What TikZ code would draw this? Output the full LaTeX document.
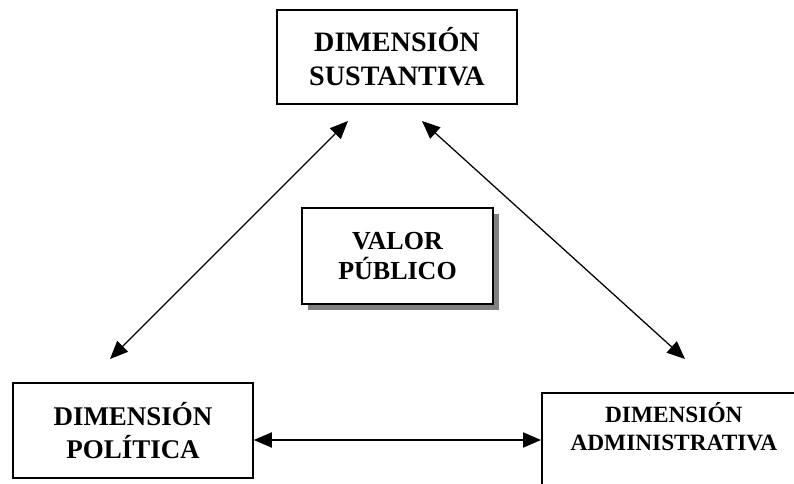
\documentclass[tikz,border=0pt]{standalone}
\usepackage{fontspec}
\setmainfont{Liberation Serif}
\usetikzlibrary{positioning,shadows,arrows.meta}

\begin{document}
\begin{tikzpicture}[x=0.25cm,y=0.25cm,
        caja/.style={draw,line width=1.2pt,align=center,font=\bfseries\fontsize{19.2}{24}\selectfont},
        flecha/.style={line width=0.9pt,{Triangle[length=0.45cm,width=0.38cm]}-{Triangle[length=0.45cm,width=0.38cm]}}]
        \useasboundingbox (0,0) rectangle (79.4,48.4);

        % dimension sustantiva
        \node[caja,minimum width=6cm,minimum height=2.35cm,font=\bfseries\fontsize{20}{24}\selectfont]
              (sust) at (39.7,42.7) {DIMENSIÓN\\SUSTANTIVA};

        % valor publico (with shadow)
        \node[caja,fill=white,minimum width=4.78cm,minimum height=2.4cm,
              font=\bfseries\fontsize{18.5}{22}\selectfont,
              drop shadow={shadow xshift=0.15cm,shadow yshift=-0.15cm,fill=black!50,opacity=1}]
              (valor) at (39.75,22.8) {VALOR\\PÚBLICO};

        % dimension politica
        \node[caja,minimum width=6cm,minimum height=2.375cm] (pol) at (13.3,5.35) {DIMENSIÓN\\POLÍTICA};

        % dimension administrativa (runs off the page)
        \node[draw,line width=1.2pt,anchor=north west,minimum width=6.6cm,minimum height=3cm] (adm) at (54.1,9.2) {};
        \node[align=center,inner sep=0pt,font=\bfseries\fontsize{16.6}{20}\selectfont,
              below=0.26cm of adm.north] (admtxt) {DIMENSIÓN\\ADMINISTRATIVA};

        % arrows
        \coordinate (sl) at (34.8,36.3);
        \coordinate (pl) at (11.0,12.5);
        \draw[flecha] (pl) -- (sl);

        \coordinate (sr) at (42.2,36.3);
        \coordinate (ar) at (68.5,12.5);
        \draw[flecha] (sr) -- (ar);

        \coordinate (h) at (0,4.4);
        \draw[flecha] (pol.east |- h) -- (adm.west |- h);
    \end{tikzpicture}
\end{document}
